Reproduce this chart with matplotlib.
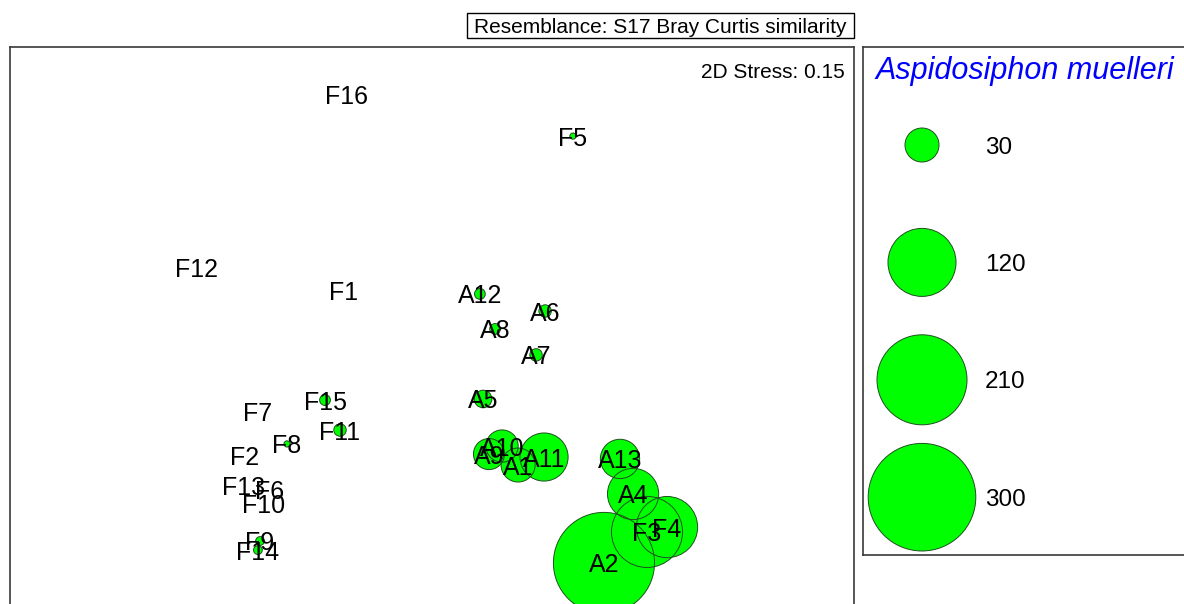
import matplotlib
matplotlib.use("Agg")
import matplotlib.pyplot as plt
from matplotlib.patches import Rectangle

plt.rcParams["font.family"] = ["Liberation Sans", "DejaVu Sans"]

# nMDS ordination of samples (Bray-Curtis resemblance)
samples = ["F16", "F5", "F12", "F1", "A12", "A6", "A8", "A7", "A5", "F15",
           "F7", "F11", "F8", "F2", "A10", "A9", "A1", "A11", "A13", "A4",
           "F13", "F6", "F10", "F3", "F4", "F9", "F14", "A2"]
mds_x = [-0.403, 0.668, -1.114, -0.417, 0.227, 0.536, 0.299, 0.493, 0.242, -0.507,
         -0.829, -0.436, -0.687, -0.886, 0.332, 0.270, 0.408, 0.531, 0.891, 0.953,
         -0.891, -0.768, -0.796, 1.019, 1.114, -0.815, -0.825, 0.815]
mds_y = [1.118, 0.919, 0.294, 0.185, 0.171, 0.090, 0.005, -0.118, -0.327, -0.332,
         -0.384, -0.474, -0.540, -0.597, -0.550, -0.588, -0.640, -0.602, -0.611, -0.777,
         -0.735, -0.754, -0.820, -0.957, -0.934, -1.000, -1.043, -1.104]
# Aspidosiphon muelleri abundance per sample
abundance = [0, 1, 0, 0, 3, 4, 3, 4, 8, 3,
             0, 4, 1, 0, 27, 25, 30, 60, 40, 68,
             0, 0, 0, 131, 97, 2, 2, 265]
legend_values = [30, 120, 210, 300]

title_text = "Resemblance: S17 Bray Curtis similarity"
stress_text = "2D Stress: 0.15"
species = "Aspidosiphon muelleri"

W, H = 1184, 604
BUBBLE = 20.0          # marker area (pt^2) per unit abundance
FILL = "#00ff00"
EDGE = "#1f4f1f"
FRAME = "#3a3a3a"

fig = plt.figure(figsize=(W / 100, H / 100), dpi=100)


def fx(px):
    return px / W


def fy(py):
    return 1 - py / H


# main ordination panel (runs past the bottom edge of the canvas)
left, right, top, bottom = 10, 854, 47, 650
ax = fig.add_axes([fx(left), fy(bottom), fx(right - left), (bottom - top) / H])
ax.set_xlim(-2.0, 2.0)
ax.set_ylim((330 - bottom) / 211, (330 - top) / 211)
ax.set_xticks([])
ax.set_yticks([])
for sp in ax.spines.values():
    sp.set_color(FRAME)
    sp.set_linewidth(1.2)

sizes = [BUBBLE * v for v in abundance]
# fills first, then all outlines so overlapping rims stay visible
ax.scatter(mds_x, mds_y, s=sizes, c=FILL, edgecolors="none", zorder=2)
ax.scatter(mds_x, mds_y, s=sizes, facecolors="none", edgecolors=EDGE,
           linewidths=0.7, zorder=3)
for name, x, y in zip(samples, mds_x, mds_y):
    ax.text(x, y, name, fontsize=18, ha="center", va="center_baseline",
            color="black", zorder=4)

fig.text(fx(845), fy(70), stress_text, fontsize=15, ha="right",
         va="center_baseline")

# resemblance caption box
fig.add_artist(Rectangle((fx(467), fy(38)), fx(854 - 467), 25 / H,
                         transform=fig.transFigure, facecolor="white",
                         edgecolor="black", linewidth=1.0))
fig.text(fx(660.5), fy(25.5), title_text, fontsize=15, ha="center",
         va="center_baseline")

# bubble-size key
kl, kr, kt, kb = 863, 1200, 47, 555
lax = fig.add_axes([fx(kl), fy(kb), fx(kr - kl), (kb - kt) / H])
lax.set_xlim(0, kr - kl)
lax.set_ylim(kb - kt, 0)
lax.set_xticks([])
lax.set_yticks([])
for sp in lax.spines.values():
    sp.set_color(FRAME)
    sp.set_linewidth(1.2)
lax.text(13, 20, species, fontsize=22, style="italic", color="#0000ff",
         ha="left", va="center_baseline")
key_y = [98 + i * 117.4 for i in range(len(legend_values))]
key_x = [59] * len(legend_values)
key_s = [BUBBLE * v for v in legend_values]
lax.scatter(key_x, key_y, s=key_s, c=FILL, edgecolors=EDGE, linewidths=0.7)
for v, y in zip(legend_values, key_y):
    lax.text(122, y, str(v), fontsize=17.5, ha="left", va="center_baseline")

fig.savefig("out.png", dpi=100)
